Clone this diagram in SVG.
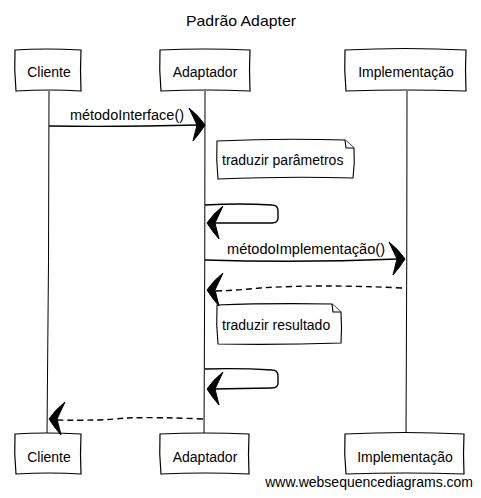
<svg xmlns="http://www.w3.org/2000/svg" width="481" height="498" viewBox="0 0 481 498">
<style>
text{font-family:"Liberation Sans",Arial,sans-serif;font-size:14px;fill:#000}
.box{fill:#fff;stroke:#000;stroke-width:1.2}
.life{fill:none;stroke:#000;stroke-width:1}
.msg{fill:none;stroke:#000;stroke-width:1.4}
.dash{fill:none;stroke:#000;stroke-width:1.4;stroke-dasharray:6,4}
.note{fill:#fff;stroke:#000;stroke-width:1.1}
</style>
<defs>
<path id="head" d="M-16,-17 Q-6,-9 0,0 Q-5,8 -12,16 L-8,0 Z" fill="#000" stroke="#000" stroke-width="1" stroke-linejoin="round"/>
</defs>
<rect width="481" height="498" fill="#fff"/>
<text x="186" y="26" textLength="110" lengthAdjust="spacingAndGlyphs" style="font-size:14.5px">Padrão Adapter</text>

<g id="lifelines">
<path class="life" d="M49,91 Q49,260 47,434"/>
<path class="life" d="M205,91 Q205,260 204,434"/>
<path class="life" d="M407,91 Q407,260 406,434"/>
</g>

<g id="cliente-top">
<path class="box" d="M15,50 Q45,48 81,50 Q80,70 81,91 Q50,89 16,91 Q14,70 15,50 Z"/>
<text x="49" y="77" text-anchor="middle">Cliente</text>
</g>
<g id="adaptador-top">
<path class="box" d="M160,50 Q205,48 250,50 Q249,70 250,91 Q205,89 161,91 Q159,70 160,50 Z"/>
<text x="205" y="77" text-anchor="middle">Adaptador</text>
</g>
<g id="implementacao-top">
<path class="box" d="M345,50 Q405,47 466,50 Q465,70 466,91 Q405,89 346,91 Q344,70 345,50 Z"/>
<text x="406" y="77" text-anchor="middle">Implementação</text>
</g>

<g id="cliente-bottom">
<path class="box" d="M15,434 Q45,432 81,434 Q80,454 81,474 Q50,472 16,474 Q14,454 15,434 Z"/>
<text x="49" y="462" text-anchor="middle">Cliente</text>
</g>
<g id="adaptador-bottom">
<path class="box" d="M160,434 Q205,432 249,434 Q248,454 249,474 Q205,472 161,474 Q159,454 160,434 Z"/>
<text x="205" y="462" text-anchor="middle">Adaptador</text>
</g>
<g id="implementacao-bottom">
<path class="box" d="M345,434 Q405,431 464,434 Q463,454 464,474 Q405,472 346,474 Q344,454 345,434 Z"/>
<text x="405" y="462" text-anchor="middle">Implementação</text>
</g>

<g id="note-parametros">
<path class="note" d="M217,141 Q280,138 345,140 L354,148 Q355,163 353,178 Q290,176 218,179 Q216,160 217,141 Z"/>
<path class="note" d="M345,140 L346,148 L354,148"/>
<text x="222" y="165">traduzir parâmetros</text>
</g>
<g id="note-resultado">
<path class="note" d="M217,305 Q270,303 332,304 L341,312 Q342,328 341,343 Q280,345 218,344 Q216,325 217,305 Z"/>
<path class="note" d="M332,304 L333,312 L341,312"/>
<text x="222" y="330">traduzir resultado</text>
</g>

<g id="connectors">
<path class="msg" d="M49,126 Q120,127 198,125"/>
<use href="#head" transform="translate(205,125)"/>
<text x="70" y="120" textLength="114" lengthAdjust="spacingAndGlyphs">métodoInterface()</text>

<path class="msg" d="M205,205 Q240,203 272,205 Q278,205 278,211 L278,218 Q278,223 272,223 L212,223"/>
<use href="#head" transform="translate(207,223) scale(-1,1)"/>

<path class="msg" d="M205,260 Q300,263 398,259"/>
<use href="#head" transform="translate(405,259)"/>
<text x="227" y="254" textLength="158" lengthAdjust="spacingAndGlyphs">métodoImplementação()</text>

<path class="dash" d="M402,288 Q320,284 260,288 Q230,291 212,291"/>
<use href="#head" transform="translate(207,290) scale(-1,1)"/>

<path class="msg" d="M205,369 Q240,368 272,370 Q278,370 278,376 L278,383 Q278,388 272,388 L212,389"/>
<use href="#head" transform="translate(207,389) scale(-1,1)"/>

<path class="dash" d="M203,419 Q160,417 125,418 Q100,421 55,420"/>
<use href="#head" transform="translate(49,419) scale(-1,1)"/>
</g>

<text x="473" y="487" text-anchor="end">www.websequencediagrams.com</text>
</svg>
